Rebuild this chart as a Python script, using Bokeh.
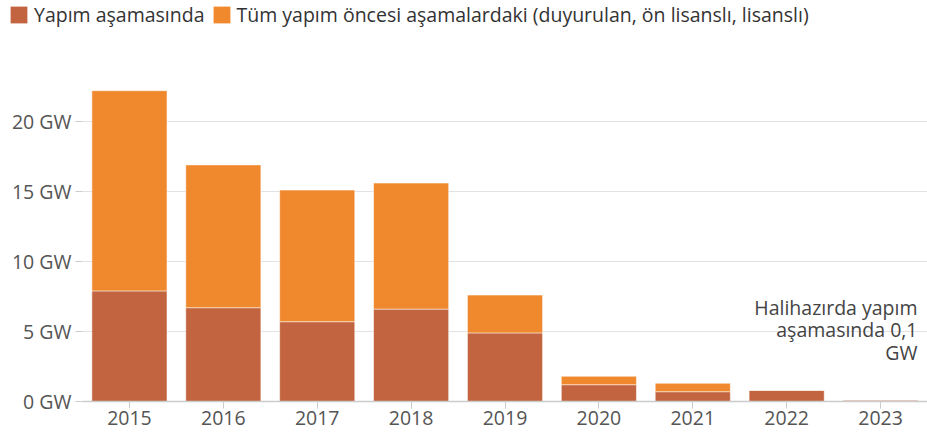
from bokeh.plotting import figure
from bokeh.models import FactorRange, Range1d, Legend, LegendItem, Label, PrintfTickFormatter
from bokeh.embed import file_html
from bokeh.resources import INLINE

years = ["2015", "2016", "2017", "2018", "2019", "2020", "2021", "2022", "2023"]
construction = [7.9, 6.7, 5.7, 6.6, 4.9, 1.2, 0.7, 0.8, 0.1]
preconstruction = [14.3, 10.2, 9.4, 9.0, 2.7, 0.6, 0.6, 0.0, 0.0]
series_names = ["Yapım aşamasında", "Tüm yapım öncesi aşamalardaki (duyurulan, ön lisanslı, lisanslı)"]
colors = ["#C2643F", "#F0892E"]
y_ticks = [0, 5, 10, 15, 20]
note_text = "Halihazırda yapım\naşamasında 0,1\nGW"

FONT = "Open Sans"
FS = "19.5px"

# ---- legend strip (top) ----
top = figure(width=927, height=40, x_range=(0, 1), y_range=(0, 1),
             x_axis_type=None, y_axis_type=None, output_backend="svg", toolbar_location=None,
             min_border=0, min_border_left=0, min_border_right=0, min_border_top=0, min_border_bottom=0)
top.outline_line_color = None
top.grid.visible = False
dummy = [top.vbar(x=[5], top=[1], width=0.5, fill_color=c, line_color=None) for c in colors]
legend = Legend(items=[LegendItem(label=series_names[i], renderers=[dummy[i]]) for i in range(2)],
                location=(8, 12), orientation="horizontal",
                padding=0, margin=0, spacing=6, glyph_width=21, glyph_height=21,
                label_standoff=5, label_height=22,
                label_text_font=FONT, label_text_font_size=FS, label_text_color="#333333",
                background_fill_alpha=0, border_line_color=None)
top.add_layout(legend, "center")

# ---- main chart ----
p = figure(width=927, height=394, x_range=FactorRange(*years), y_range=Range1d(0, 25),
           output_backend="svg", toolbar_location=None,
           min_border_left=82, min_border_right=0, min_border_top=11, min_border_bottom=33)
p.outline_line_color = None

src = dict(years=years, c=construction, pc=preconstruction)
rs = p.vbar_stack(["c", "pc"], x="years", width=0.8, source=src,
                  fill_color=colors, line_color="#ffffff", line_width=0.6, line_alpha=0.85)

p.xgrid.grid_line_color = None
p.ygrid.grid_line_color = "#e2e2e2"
p.ygrid.ticker = y_ticks

p.yaxis.ticker = y_ticks
p.yaxis.formatter = PrintfTickFormatter(format="%d GW")
p.yaxis.axis_line_color = None
p.yaxis.major_tick_line_color = "#cccccc"
p.yaxis.major_tick_out = 7
p.yaxis.major_tick_in = 0
p.yaxis.minor_tick_line_color = None
p.yaxis.major_label_standoff = 4
p.yaxis.major_label_text_font = FONT
p.yaxis.major_label_text_font_size = FS
p.yaxis.major_label_text_color = "#555555"

p.xaxis.axis_line_color = "#cccccc"
p.xaxis.axis_line_width = 1.5
p.xaxis.major_tick_line_color = "#cccccc"
p.xaxis.major_tick_out = 7
p.xaxis.major_tick_in = 0
p.xaxis.major_label_standoff = 2
p.xaxis.major_label_text_font = FONT
p.xaxis.major_label_text_font_size = FS
p.xaxis.major_label_text_color = "#555555"

note = Label(x=835, y=108, x_units="screen", y_units="screen",
             text=note_text,
             text_align="right", text_baseline="top", text_line_height=0.85,
             text_font=FONT, text_font_size=FS, text_color="#444444")
p.add_layout(note)

open("out.html", "w").write(file_html([top, p], INLINE))
